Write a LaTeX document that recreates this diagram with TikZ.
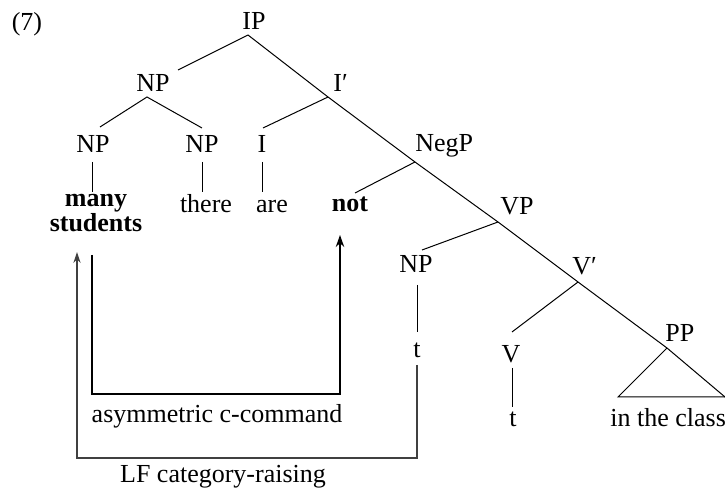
\documentclass[tikz,border=0pt]{standalone}
\usepackage{fontspec}
\setmainfont{Liberation Serif}
\usetikzlibrary{arrows.meta}
\begin{document}
\begin{tikzpicture}[x=0.5pt,y=-0.5pt,
  every node/.style={inner sep=0pt, font=\fontsize{13}{15}\selectfont},
  lbl/.style={anchor=base},
  rlbl/.style={anchor=base west},
  branch/.style={line width=0.5pt},
  ccmd/.style={line width=1.2pt, -{Stealth[length=6pt,width=4.2pt]}},
  raise/.style={line width=0.6pt, black!75, -{Stealth[length=5.5pt,width=3.6pt]}}]
\useasboundingbox (0,0) rectangle (725,491);

% example number
\node[lbl] (num) at (27,31) {(7)};

% category labels
\node[lbl]  (ip)    at (254,30)  {IP};
\node[lbl]  (np)    at (153,92)  {NP};
\node[rlbl] (ibar)  at (333,92)  {I′};
\node[lbl]  (npa)   at (93,153)  {NP};
\node[lbl]  (npb)   at (202,153) {NP};
\node[lbl]  (i)     at (262,153) {I};
\node[rlbl] (negp)  at (415,152) {NegP};
\node[rlbl] (vp)    at (500,215) {VP};
\node[lbl]  (npc)   at (416,273) {NP};
\node[rlbl] (vbar)  at (572,275) {V′};
\node[rlbl] (pp)    at (665,342) {PP};
\node[lbl]  (v)     at (511,363) {V};

% terminals (the two-line node sits on the baseline of its last line)
\node[lbl, align=center, font=\bfseries\fontsize{13}{10}\selectfont]
            (many)  at (96,232)  {many\\students};
\node[lbl]  (there) at (206,213) {there};
\node[lbl]  (are)   at (272,213) {are};
\node[lbl, font=\bfseries\fontsize{13}{15}\selectfont] (not) at (350,212) {not};
\node[lbl]  (tnp)   at (417,358) {t};
\node[lbl]  (tv)    at (513,427) {t};
\node[rlbl] (class) at (610,427) {in the class};

% relation labels
\node[lbl] (asym) at (217,423) {asymmetric c-command};
\node[lbl] (lf)   at (223,483) {LF category-raising};

% branching points
\coordinate (ip-j)   at (248,35);
\coordinate (np-top) at (178,70);
\coordinate (np-j)   at (147,97);
\coordinate (npa-t)  at (100,127);
\coordinate (npb-t)  at (202,128);
\coordinate (ibar-j) at (328,97);
\coordinate (i-t)    at (263,128);
\coordinate (negp-j) at (415,162);
\coordinate (not-t)  at (355,193);
\coordinate (vp-j)   at (498,222);
\coordinate (npc-t)  at (422,250);
\coordinate (vbar-j) at (578,282);
\coordinate (v-t)    at (512,332);
\coordinate (pp-j)   at (667,348);
\coordinate (tri-l)  at (618,397);
\coordinate (tri-r)  at (725,397);

% spine of the tree
\draw[branch] (ip-j) -- (ibar-j) -- (negp-j) -- (vp-j) -- (vbar-j) -- (pp-j) -- (tri-r);
% other branches
\draw[branch] (ip-j) -- (np-top);
\draw[branch] (npa-t) -- (np-j) -- (npb-t);
\draw[branch] (ibar-j) -- (i-t);
\draw[branch] (negp-j) -- (not-t);
\draw[branch] (vp-j) -- (npc-t);
\draw[branch] (vbar-j) -- (v-t);
\draw[branch] (pp-j) -- (tri-l) -- (tri-r);

% unary branches
\coordinate (npa-b)  at (92,162);   \coordinate (many-t)  at (92,192);
\coordinate (npb-b)  at (202,162);  \coordinate (there-t) at (202,192);
\coordinate (i-b)    at (262,162);  \coordinate (are-t)   at (262,192);
\coordinate (npc-b)  at (417,285);  \coordinate (tnp-t)   at (417,332);
\coordinate (v-b)    at (512,368);  \coordinate (tv-t)    at (512,407);
\draw[branch] (npa-b) -- (many-t);
\draw[branch] (npb-b) -- (there-t);
\draw[branch] (i-b) -- (are-t);
\draw[branch] (npc-b) -- (tnp-t);
\draw[branch] (v-b) -- (tv-t);

% asymmetric c-command arrow
\coordinate (cc-s) at (92,255);
\coordinate (cc-e) at (340,235);
\draw[ccmd] (cc-s) |- (340,394) -- (cc-e);

% LF raising arrow
\coordinate (lf-s) at (417,365);
\coordinate (lf-e) at (77,252);
\draw[raise] (lf-s) |- (77,458) -- (lf-e);
\end{tikzpicture}
\end{document}
